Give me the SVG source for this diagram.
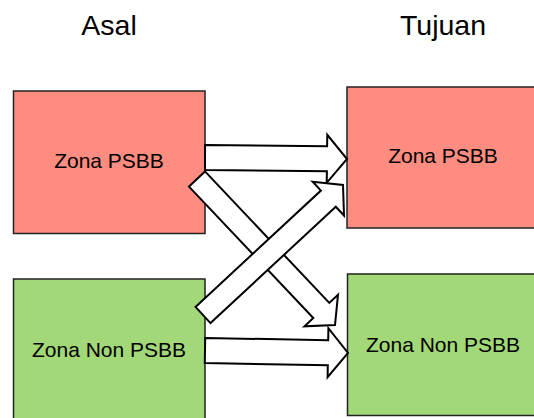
<svg xmlns="http://www.w3.org/2000/svg" width="534" height="418" viewBox="0 0 534 418">
<style>
.bg{fill:#ffffff}
.title{font-family:"Liberation Sans",Arial,sans-serif;font-size:28.5px;fill:#000;text-anchor:middle}
.label{font-family:"Liberation Sans",Arial,sans-serif;font-size:21px;fill:#000;text-anchor:middle}
.red{fill:#FF8C80;stroke:#222;stroke-width:1.5}
.green{fill:#A2D877;stroke:#222;stroke-width:1.5}
.arrow{fill:#fff;stroke:#000;stroke-width:2;stroke-linejoin:miter}
</style>
<rect class="bg" x="0" y="0" width="534" height="418"/>
<text class="title" x="109" y="35">Asal</text>
<text class="title" x="443" y="35">Tujuan</text>
<g id="asal-psbb">
<rect class="red" x="13.5" y="91" width="191.5" height="142.5"/>
<text class="label" x="109" y="168">Zona PSBB</text>
</g>
<g id="asal-nonpsbb">
<rect class="green" x="13.5" y="279" width="191.5" height="142"/>
<text class="label" x="109" y="357">Zona Non PSBB</text>
</g>
<g id="tujuan-psbb">
<rect class="red" x="347" y="87" width="192" height="141"/>
<text class="label" x="443" y="163">Zona PSBB</text>
</g>
<g id="tujuan-nonpsbb">
<rect class="green" x="347.5" y="274" width="192" height="141.5"/>
<text class="label" x="443" y="352">Zona Non PSBB</text>
</g>
<g id="connectors">
<polygon class="arrow" points="205,145 327.1,146.3 327.3,134.8 347,159 326.7,182.8 326.9,171.3 205,170"/>
<polygon class="arrow" points="205.2,338 328.2,340.2 328.4,328.2 348,353 327.6,377.2 327.8,365.2 204.8,363"/>
<polygon class="arrow" points="205,171.4 329.3,302.9 338,294.7 335,325 304.5,326.3 313.3,318 189,186.6"/>
<polygon class="arrow" points="195.5,306.9 320.9,190.6 312.7,181.8 343,185 344,215.5 335.8,206.7 210.5,323.1"/>
</g>
</svg>
